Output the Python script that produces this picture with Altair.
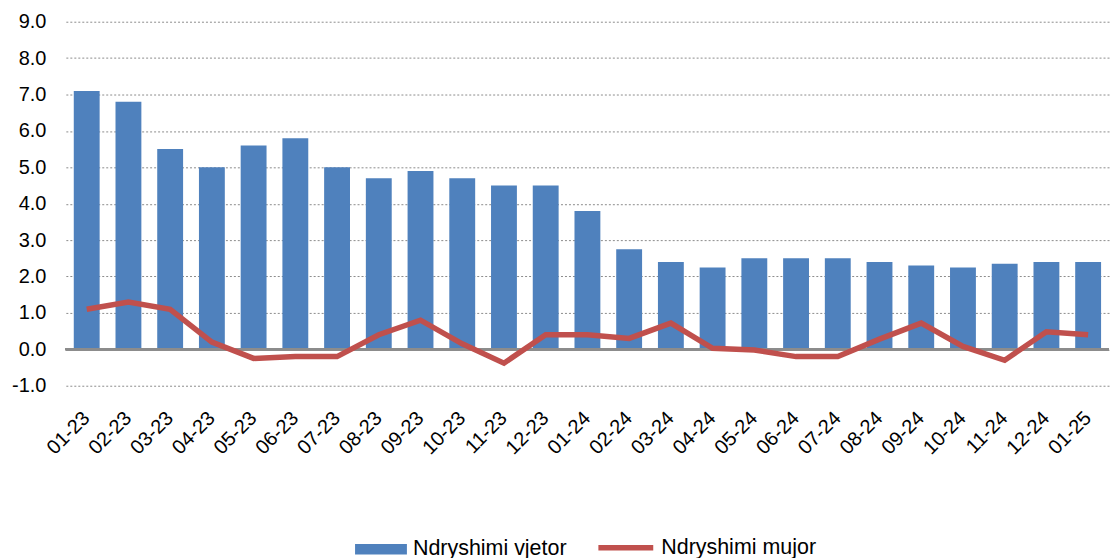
import altair as alt
import pandas as pd

months = ["01-23", "02-23", "03-23", "04-23", "05-23", "06-23", "07-23", "08-23",
          "09-23", "10-23", "11-23", "12-23", "01-24", "02-24", "03-24", "04-24",
          "05-24", "06-24", "07-24", "08-24", "09-24", "10-24", "11-24", "12-24", "01-25"]
vjetor = [7.1, 6.8, 5.5, 5.0, 5.6, 5.8, 5.0, 4.7, 4.9, 4.7, 4.5, 4.5, 3.8, 2.75,
          2.4, 2.25, 2.5, 2.5, 2.5, 2.4, 2.3, 2.25, 2.35, 2.4, 2.4]
mujor = [1.1, 1.3, 1.1, 0.2, -0.25, -0.2, -0.2, 0.4, 0.8, 0.15, -0.38, 0.4, 0.4, 0.3,
         0.72, 0.03, -0.02, -0.2, -0.2, 0.28, 0.72, 0.08, -0.3, 0.48, 0.4]
name_v = "Ndryshimi vjetor"
name_m = "Ndryshimi mujor"
y_ticks = [-1, 0, 1, 2, 3, 4, 5, 6, 7, 8, 9]

df = pd.DataFrame({
    "month": months,
    "vjetor": vjetor,
    "mujor": mujor,
    "zero": [0] * len(months),
    "sv": [name_v] * len(months),
    "sm": [name_m] * len(months),
})

BLUE = "#4F81BD"
RED = "#C0504D"
GRID = "#8c8c8c"
FONT = "Liberation Sans"

x_axis = alt.Axis(labelAngle=-45, labelAlign="right", labelBaseline="middle")
y_axis = alt.Axis(values=y_ticks, labelExpr="replace(format(datum.value, '.1f'), '\u2212', '-')")

x_scale = alt.Scale(paddingInner=0.38, paddingOuter=0.19)
y_scale = alt.Scale(domain=[-1, 9], nice=False, zero=False)

base = alt.Chart(df)

bars = base.mark_bar(color=BLUE).encode(
    x=alt.X("month:N", sort=months, title=None, scale=x_scale, axis=x_axis),
    y=alt.Y("vjetor:Q", scale=y_scale, title=None, axis=y_axis),
    fill=alt.Fill("sv:N", scale=alt.Scale(domain=[name_v], range=[BLUE]),
                  legend=alt.Legend(title=None, orient="none", legendX=290, legendY=503,
                                    symbolType="M-1,-0.2H1V0.2H-1Z", symbolSize=2704,
                                    symbolStrokeWidth=0, symbolFillColor=BLUE,
                                    labelFontSize=21.5, labelFont=FONT,
                                    labelColor="black", labelOffset=6, padding=0)),
)

zero = base.mark_rule(color=GRID, strokeWidth=2).encode(
    y=alt.Y("zero:Q", scale=y_scale, title=None, axis=y_axis),
)

line = base.mark_line(strokeWidth=5.5).encode(
    x=alt.X("month:N", sort=months, title=None, scale=x_scale, axis=x_axis),
    y=alt.Y("mujor:Q", scale=y_scale, title=None, axis=y_axis),
    stroke=alt.Stroke("sm:N", scale=alt.Scale(domain=[name_m], range=[RED]),
                      legend=alt.Legend(title=None, orient="none", legendX=531, legendY=497,
                                        symbolType="stroke", symbolSize=3025,
                                        symbolStrokeWidth=5.5, symbolStrokeColor=RED,
                                        labelFontSize=21.5, labelFont=FONT,
                                        labelColor="black", labelOffset=5, padding=0)),
)

chart = alt.layer(bars, zero, line).properties(
    width=1046, height=365,
    padding={"left": 3, "top": 3, "right": 0, "bottom": 0},
).configure(
    font=FONT,
    view=alt.ViewConfig(stroke=None),
).configure_axis(
    labelFont=FONT, labelColor="black", ticks=False, domain=False, labelOverlap=False,
).configure_axisX(
    labelFontSize=20, labelPadding=29, grid=False,
).configure_axisY(
    labelFontSize=20, labelPadding=20, grid=True, gridDash=[2, 2], gridColor=GRID,
    gridWidth=1, gridOpacity=1,
)

chart.save("out.html", embed_options={"renderer": "svg", "actions": False})
